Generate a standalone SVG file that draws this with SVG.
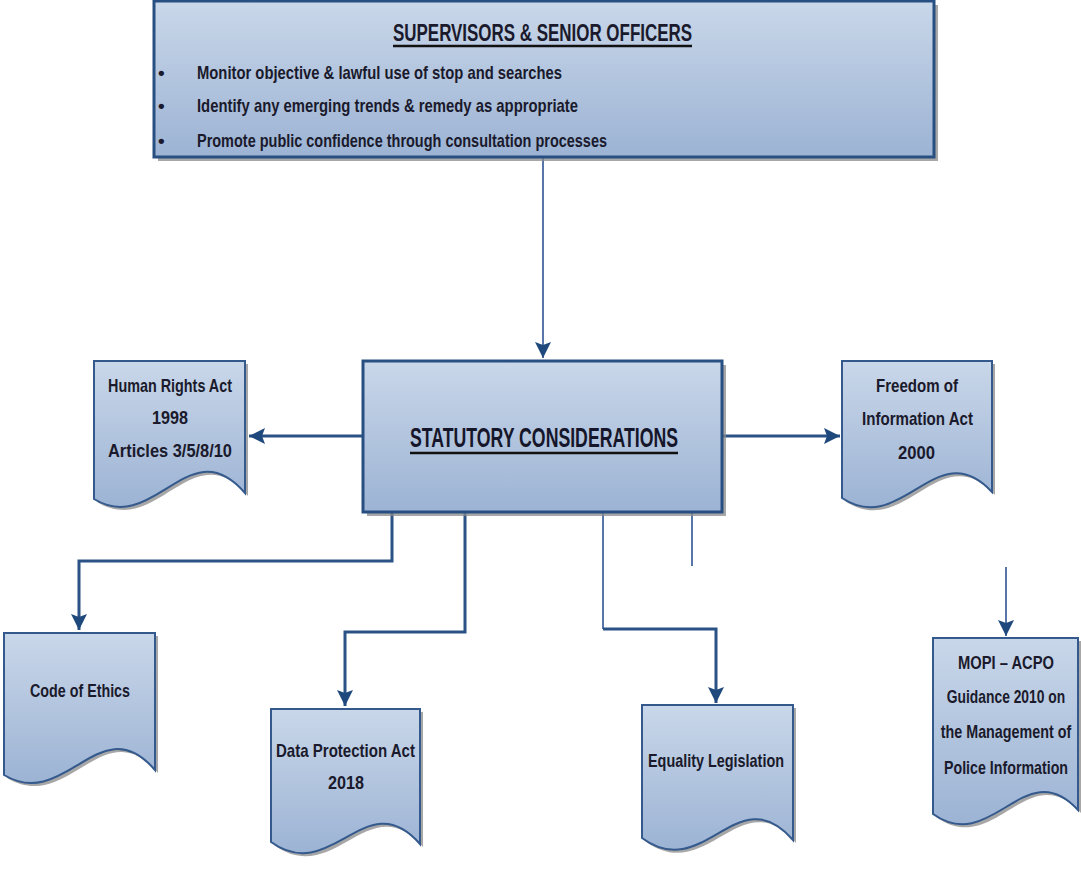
<svg xmlns="http://www.w3.org/2000/svg" width="1081" height="870" viewBox="0 0 1081 870">
<style>
.box{fill:url(#g);stroke:#284f82;stroke-width:3}
.doc{fill:url(#g);stroke:#34598c;stroke-width:2}
.sh{fill:#8a8a8a;opacity:0.75}
.t{font-family:"Liberation Sans Narrow","Liberation Sans",Arial,sans-serif;font-size:19px;font-weight:bold;fill:#1a1a2c}
.tm{font-family:"Liberation Sans Narrow","Liberation Sans",Arial,sans-serif;font-size:18px;font-weight:bold;fill:#1a1a2c}
.tt{font-family:"Liberation Sans Narrow","Liberation Sans",Arial,sans-serif;font-size:24px;font-weight:bold;fill:#1a1a2c}
.ts{font-family:"Liberation Sans Narrow","Liberation Sans",Arial,sans-serif;font-size:27px;font-weight:bold;fill:#16162a}
.ul{stroke:#111;stroke-width:2.5}
.c{fill:none;stroke:#2b5286;stroke-width:3}
.cl{fill:none;stroke:#5877a8;stroke-width:2}
</style>
<defs>
<linearGradient id="g" x1="0" y1="0" x2="0" y2="1">
<stop offset="0" stop-color="#c9d7e9"/>
<stop offset="1" stop-color="#9cb3d4"/>
</linearGradient>
<marker id="a" markerUnits="userSpaceOnUse" markerWidth="18" markerHeight="18" refX="16" refY="8" orient="auto" viewBox="0 0 18 16">
<path d="M0,0 L16,8 L0,16 L3,8 Z" fill="#1f487c"/>
</marker>
</defs>

<g id="connectors">
<path class="cl" d="M543,158 V358" marker-end="url(#a)"/>
<path class="c" d="M363,436 H249" marker-end="url(#a)"/>
<path class="c" d="M722,436 H840" marker-end="url(#a)"/>
<path class="c" d="M392,512 V561 H79 V630" marker-end="url(#a)"/>
<path class="c" d="M465,512 V632 H345 V706" marker-end="url(#a)"/>
<path class="cl" d="M603,512 V629"/>
<path class="c" d="M603,629 H716 V703" marker-end="url(#a)"/>
<path class="cl" d="M692,512 V566"/>
<path class="cl" d="M1006,567 V636" marker-end="url(#a)"/>
</g>

<g id="supervisors">
<rect class="sh" x="158" y="5" width="780" height="156"/>
<rect class="box" x="154" y="1" width="780" height="156"/>
<text class="tt" x="393" y="41" textLength="299" lengthAdjust="spacingAndGlyphs">SUPERVISORS &amp; SENIOR OFFICERS</text>
<line class="ul" x1="393" y1="46" x2="692" y2="46"/>
<text class="t" x="158" y="79">•</text>
<text class="t" x="197" y="79" textLength="365" lengthAdjust="spacingAndGlyphs">Monitor objective &amp; lawful use of stop and searches</text>
<text class="t" x="158" y="112">•</text>
<text class="t" x="197" y="112" textLength="381" lengthAdjust="spacingAndGlyphs">Identify any emerging trends &amp; remedy as appropriate</text>
<text class="t" x="158" y="147">•</text>
<text class="t" x="197" y="147" textLength="410" lengthAdjust="spacingAndGlyphs">Promote public confidence through consultation processes</text>
</g>

<g id="statutory">
<rect class="sh" x="367" y="365" width="359" height="151"/>
<rect class="box" x="363" y="361" width="359" height="151"/>
<text class="ts" x="410" y="447" textLength="268" lengthAdjust="spacingAndGlyphs">STATUTORY CONSIDERATIONS</text>
<line class="ul" x1="410" y1="453" x2="678" y2="453"/>
</g>

<g id="human-rights">
<path class="sh" transform="translate(3,3)" d="M94,361 H245 V493 C189,428 155,536 94,499 Z"/>
<path class="doc" d="M94,361 H245 V493 C189,428 155,536 94,499 Z"/>
<text class="t" x="108" y="392" textLength="124" lengthAdjust="spacingAndGlyphs">Human Rights Act</text>
<text class="t" x="152" y="424" textLength="36" lengthAdjust="spacingAndGlyphs">1998</text>
<text class="t" x="108" y="457" textLength="124" lengthAdjust="spacingAndGlyphs">Articles 3/5/8/10</text>
</g>

<g id="freedom">
<path class="sh" transform="translate(3,3)" d="M842,361 H992 V492 C937,432 902,538 842,498 Z"/>
<path class="doc" d="M842,361 H992 V492 C937,432 902,538 842,498 Z"/>
<text class="t" x="876" y="392" textLength="82" lengthAdjust="spacingAndGlyphs">Freedom of</text>
<text class="t" x="862" y="425" textLength="111" lengthAdjust="spacingAndGlyphs">Information Act</text>
<text class="t" x="898" y="459" textLength="37" lengthAdjust="spacingAndGlyphs">2000</text>
</g>

<g id="code-of-ethics">
<path class="sh" transform="translate(3,3)" d="M4,633 H155 V770 C100,706 66,812 4,775 Z"/>
<path class="doc" d="M4,633 H155 V770 C100,706 66,812 4,775 Z"/>
<text class="t" x="30" y="697" textLength="100" lengthAdjust="spacingAndGlyphs">Code of Ethics</text>
</g>

<g id="data-protection">
<path class="sh" transform="translate(3,3)" d="M271,709 H420 V844 C366,782 332,886 271,842 Z"/>
<path class="doc" d="M271,709 H420 V844 C366,782 332,886 271,842 Z"/>
<text class="t" x="276" y="757" textLength="139" lengthAdjust="spacingAndGlyphs">Data Protection Act</text>
<text class="t" x="328" y="789" textLength="36" lengthAdjust="spacingAndGlyphs">2018</text>
</g>

<g id="equality">
<path class="sh" transform="translate(3,3)" d="M642,705 H793 V840 C738,776 704,884 642,838 Z"/>
<path class="doc" d="M642,705 H793 V840 C738,776 704,884 642,838 Z"/>
<text class="t" x="648" y="767" textLength="136" lengthAdjust="spacingAndGlyphs">Equality Legislation</text>
</g>

<g id="mopi">
<path class="sh" transform="translate(3,3)" d="M933,638 H1078 V810 C1025,752 992,856 933,814 Z"/>
<path class="doc" d="M933,638 H1078 V810 C1025,752 992,856 933,814 Z"/>
<text class="tm" transform="translate(1006,669) scale(0.8,1)" x="0" y="0" text-anchor="middle" textLength="120" lengthAdjust="spacingAndGlyphs">MOPI – ACPO</text>
<text class="tm" transform="translate(1006,703) scale(0.8,1)" x="0" y="0" text-anchor="middle" textLength="148" lengthAdjust="spacingAndGlyphs">Guidance 2010 on</text>
<text class="tm" transform="translate(1006,738) scale(0.8,1)" x="0" y="0" text-anchor="middle" textLength="163" lengthAdjust="spacingAndGlyphs">the Management of</text>
<text class="tm" transform="translate(1006,774) scale(0.8,1)" x="0" y="0" text-anchor="middle" textLength="155" lengthAdjust="spacingAndGlyphs">Police Information</text>
</g>
</svg>
